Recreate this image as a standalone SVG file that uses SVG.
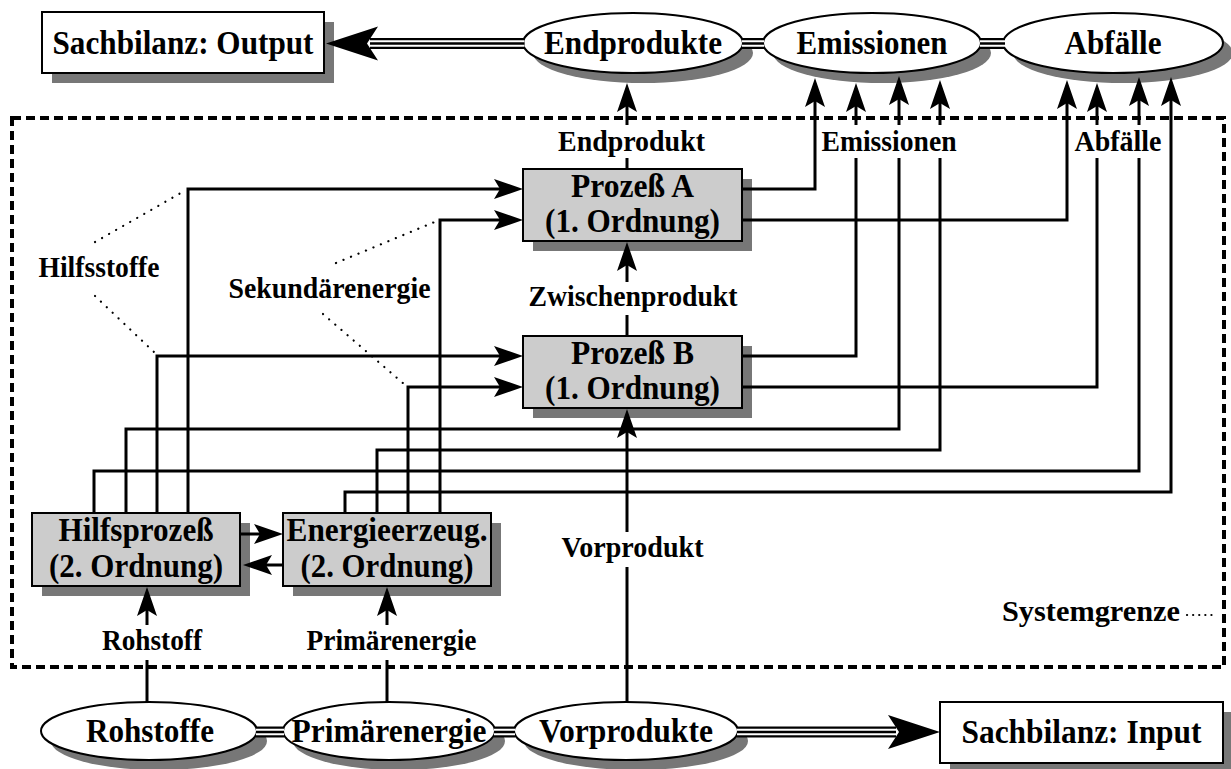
<svg xmlns="http://www.w3.org/2000/svg" width="1231" height="769" viewBox="0 0 1231 769">
<style>
.big{font-family:"Liberation Serif","Times New Roman",serif;font-weight:bold;font-size:33px;text-anchor:middle;fill:#000}
.small{font-family:"Liberation Serif","Times New Roman",serif;font-weight:bold;font-size:29px;text-anchor:middle;fill:#000}
.sh{fill:#777}
.gbox{fill:#ccc;stroke:#000;stroke-width:2}
.wbox{fill:#fff;stroke:#000;stroke-width:2}
.ln{fill:none;stroke:#000;stroke-width:3;stroke-linejoin:miter}
.arr{marker-end:url(#ah)}
.dot{fill:none;stroke:#000;stroke-width:2.2;stroke-dasharray:0.1 8;stroke-linecap:round}
.t1{stroke:#000;stroke-width:11}
.t2{stroke:#fff;stroke-width:6.5}
.t3{stroke:#000;stroke-width:2.5}
.bound{fill:none;stroke:#000;stroke-width:4;stroke-dasharray:9 5}
</style>
<defs>
<marker id="ah" markerUnits="userSpaceOnUse" viewBox="-24 -11 31 22" markerWidth="31" markerHeight="22" refX="0" refY="0" orient="auto">
<path d="M6,0 L-23,-10 L-17,0 L-23,10 Z" fill="#000"/>
</marker>
</defs>
<rect width="1231" height="769" fill="#fff"/>

<g id="systemgrenze">
<rect class="bound" x="12" y="118" width="1212" height="549"/>
<text class="small" x="1180" y="621" style="text-anchor:end" textLength="178" lengthAdjust="spacingAndGlyphs">Systemgrenze</text>
<line class="dot" x1="1187" y1="615" x2="1213" y2="615" style="stroke-dasharray:0.1 6"/>
</g>

<g id="n-output">
<rect class="sh" x="52" y="22" width="282" height="61"/>
<rect class="wbox" x="42" y="12" width="282" height="61"/>
<text class="big" x="183" y="54" textLength="261" lengthAdjust="spacingAndGlyphs">Sachbilanz: Output</text>
</g>
<g id="n-endprodukte">
<ellipse class="sh" cx="643" cy="53" rx="110" ry="30"/>
<ellipse class="wbox" cx="633" cy="43" rx="110" ry="30"/>
<text class="big" x="633" y="54" textLength="178" lengthAdjust="spacingAndGlyphs">Endprodukte</text>
</g>
<g id="n-emissionen">
<ellipse class="sh" cx="882" cy="53" rx="109" ry="30"/>
<ellipse class="wbox" cx="872" cy="43" rx="109" ry="30"/>
<text class="big" x="872" y="54" textLength="151" lengthAdjust="spacingAndGlyphs">Emissionen</text>
</g>
<g id="n-abfaelle">
<ellipse class="sh" cx="1123" cy="53" rx="110" ry="30"/>
<ellipse class="wbox" cx="1113" cy="43" rx="110" ry="30"/>
<text class="big" x="1113" y="54" textLength="97" lengthAdjust="spacingAndGlyphs">Abfälle</text>
</g>
<g id="n-prozessA">
<rect class="sh" x="533" y="179" width="219" height="72"/>
<rect class="gbox" x="523" y="169" width="219" height="72"/>
<text class="big" x="632.5" y="197" textLength="123" lengthAdjust="spacingAndGlyphs">Prozeß A</text>
<text class="big" x="632.5" y="232" textLength="175" lengthAdjust="spacingAndGlyphs">(1. Ordnung)</text>
</g>
<g id="n-prozessB">
<rect class="sh" x="533" y="346" width="219" height="72"/>
<rect class="gbox" x="523" y="336" width="219" height="72"/>
<text class="big" x="632.5" y="364" textLength="123" lengthAdjust="spacingAndGlyphs">Prozeß B</text>
<text class="big" x="632.5" y="399" textLength="175" lengthAdjust="spacingAndGlyphs">(1. Ordnung)</text>
</g>
<g id="n-hilfsprozess">
<rect class="sh" x="42" y="523" width="208" height="73"/>
<rect class="gbox" x="32" y="513" width="208" height="73"/>
<text class="big" x="136" y="541" textLength="155" lengthAdjust="spacingAndGlyphs">Hilfsprozeß</text>
<text class="big" x="136" y="577" textLength="174" lengthAdjust="spacingAndGlyphs">(2. Ordnung)</text>
</g>
<g id="n-energie">
<rect class="sh" x="293" y="523" width="208" height="73"/>
<rect class="gbox" x="283" y="513" width="208" height="73"/>
<text class="big" x="387" y="541" textLength="201" lengthAdjust="spacingAndGlyphs">Energieerzeug.</text>
<text class="big" x="387" y="577" textLength="173" lengthAdjust="spacingAndGlyphs">(2. Ordnung)</text>
</g>
<g id="n-rohstoffe">
<ellipse class="sh" cx="159" cy="741" rx="108" ry="29"/>
<ellipse class="wbox" cx="149" cy="731" rx="108" ry="29"/>
<text class="big" x="150" y="742" textLength="128" lengthAdjust="spacingAndGlyphs">Rohstoffe</text>
</g>
<g id="n-primaerenergie">
<ellipse class="sh" cx="399" cy="741" rx="106" ry="29"/>
<ellipse class="wbox" cx="389" cy="731" rx="106" ry="29"/>
<text class="big" x="389" y="742" textLength="195" lengthAdjust="spacingAndGlyphs">Primärenergie</text>
</g>
<g id="n-vorprodukte">
<ellipse class="sh" cx="636" cy="741" rx="112" ry="29"/>
<ellipse class="wbox" cx="626" cy="731" rx="112" ry="29"/>
<text class="big" x="626" y="742" textLength="174" lengthAdjust="spacingAndGlyphs">Vorprodukte</text>
</g>
<g id="n-input">
<rect class="sh" x="950" y="712" width="283" height="61"/>
<rect class="wbox" x="940" y="702" width="283" height="61"/>
<text class="big" x="1081.5" y="743" textLength="240" lengthAdjust="spacingAndGlyphs">Sachbilanz: Input</text>
</g>

<g id="connectors">
<g>
<path class="t1" d="M370,43.5H524.5M742,43.5H764M980,43.5H1005"/>
<path class="t2" d="M370,43.5H524.5M742,43.5H764M980,43.5H1005"/>
<path class="t3" d="M370,43.5H524.5M742,43.5H764M980,43.5H1005"/>
<polygon points="326,43.5 378,26.5 367,43.5 378,60.5" fill="#000"/>
</g>
<g>
<path class="t1" d="M256,732H284M494,732H515M737,732H896"/>
<path class="t2" d="M256,732H284M494,732H515M737,732H896"/>
<path class="t3" d="M256,732H284M494,732H515M737,732H896"/>
<polygon points="940,732 888,715 899,732 888,749" fill="#000"/>
</g>

<line class="ln" x1="627" y1="169" x2="627" y2="158"/>
<line class="ln arr" x1="627" y1="125" x2="627" y2="89"/>
<line class="ln" x1="627" y1="336" x2="627" y2="315"/>
<line class="ln arr" x1="627" y1="282" x2="627" y2="248"/>
<line class="ln" x1="627" y1="703" x2="627" y2="567"/>
<line class="ln arr" x1="627" y1="532" x2="627" y2="415"/>
<line class="ln" x1="147" y1="703" x2="147" y2="660"/>
<line class="ln arr" x1="147" y1="625" x2="147" y2="593"/>
<line class="ln" x1="387" y1="703" x2="387" y2="660"/>
<line class="ln arr" x1="387" y1="625" x2="387" y2="593"/>

<polyline class="ln arr" points="188,513 188,189 517,189"/>
<polyline class="ln arr" points="157,513 157,356 517,356"/>
<polyline class="ln arr" points="440,513 440,220 517,220"/>
<polyline class="ln arr" points="408,513 408,387 517,387"/>

<line class="ln arr" x1="240" y1="534" x2="277" y2="534"/>
<line class="ln arr" x1="283" y1="565" x2="249" y2="565"/>

<polyline class="ln arr" points="742,189 815,189 815,84"/>
<polyline class="ln" points="742,356 856,356 856,158"/>
<line class="ln arr" x1="856" y1="125" x2="856" y2="89"/>
<polyline class="ln" points="126,513 126,429 899,429 899,158"/>
<line class="ln arr" x1="899" y1="125" x2="899" y2="82"/>
<polyline class="ln" points="377,513 377,450 940,450 940,158"/>
<line class="ln arr" x1="940" y1="125" x2="940" y2="86"/>

<polyline class="ln arr" points="742,220 1067,220 1067,86"/>
<polyline class="ln" points="742,387 1097,387 1097,158"/>
<line class="ln arr" x1="1097" y1="125" x2="1097" y2="89"/>
<polyline class="ln" points="94,513 94,471 1139,471 1139,158"/>
<line class="ln arr" x1="1139" y1="125" x2="1139" y2="83"/>
<polyline class="ln arr" points="345,513 345,492 1171,492 1171,83"/>

<line class="dot" x1="95" y1="242" x2="186" y2="190"/>
<line class="dot" x1="95" y1="296" x2="155" y2="353"/>
<line class="dot" x1="336" y1="263" x2="437" y2="221"/>
<line class="dot" x1="323" y1="314" x2="404" y2="384"/>
</g>

<g id="labels">
<text class="small" x="631.5" y="151" textLength="147" lengthAdjust="spacingAndGlyphs">Endprodukt</text>
<text class="small" x="889" y="151" textLength="135" lengthAdjust="spacingAndGlyphs">Emissionen</text>
<text class="small" x="1118" y="151" textLength="87" lengthAdjust="spacingAndGlyphs">Abfälle</text>
<text class="small" x="633" y="306" textLength="209" lengthAdjust="spacingAndGlyphs">Zwischenprodukt</text>
<text class="small" x="632.5" y="557" textLength="142" lengthAdjust="spacingAndGlyphs">Vorprodukt</text>
<text class="small" x="99" y="277" textLength="121" lengthAdjust="spacingAndGlyphs">Hilfsstoffe</text>
<text class="small" x="329.5" y="298" textLength="202" lengthAdjust="spacingAndGlyphs">Sekundärenergie</text>
<text class="small" x="152" y="650" textLength="100" lengthAdjust="spacingAndGlyphs">Rohstoff</text>
<text class="small" x="391.5" y="650" textLength="170" lengthAdjust="spacingAndGlyphs">Primärenergie</text>
</g>
</svg>
